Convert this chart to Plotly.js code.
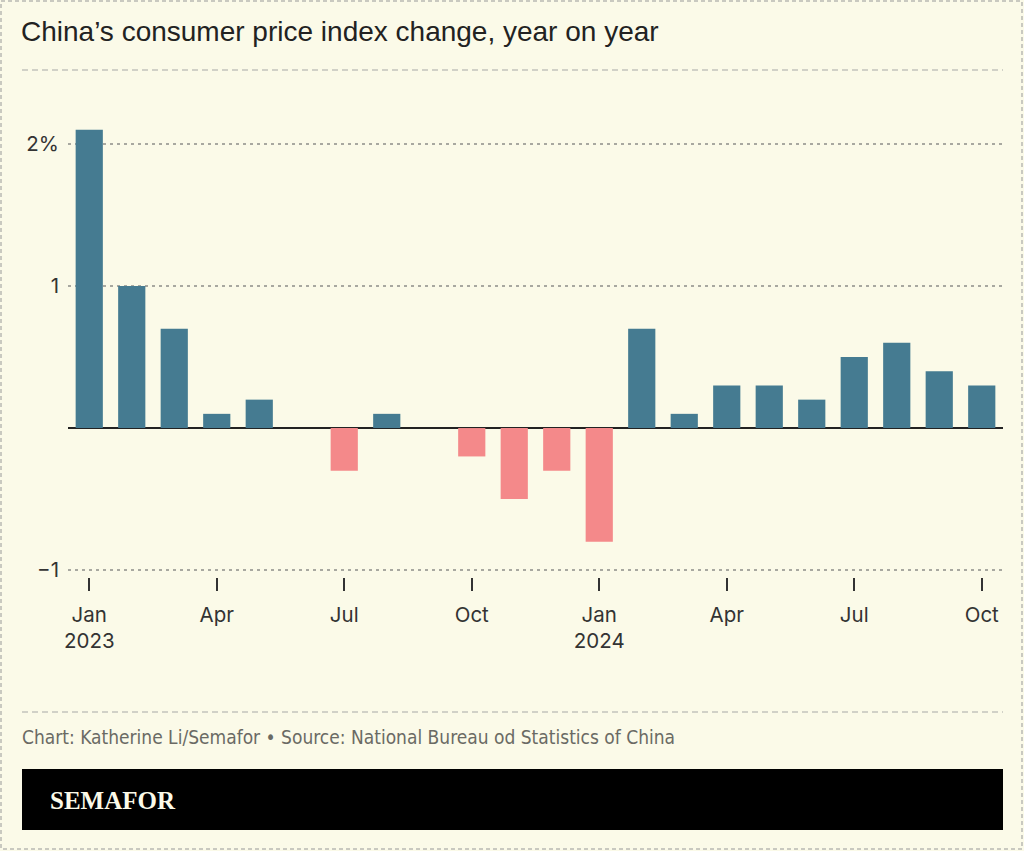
<!DOCTYPE html>
<html>
<head>
<meta charset="utf-8">
<script src="https://cdn.plot.ly/plotly-3.0.1.min.js"></script>
<style>
  html, body { margin: 0; padding: 0; background: #fbfae8; }
  #chart { width: 1024px; height: 851px; }
</style>
</head>
<body>
<div id="chart"></div>
<script>
// ---- Data ----
const months = [
  "Jan 2023","Feb 2023","Mar 2023","Apr 2023","May 2023","Jun 2023",
  "Jul 2023","Aug 2023","Sep 2023","Oct 2023","Nov 2023","Dec 2023",
  "Jan 2024","Feb 2024","Mar 2024","Apr 2024","May 2024","Jun 2024",
  "Jul 2024","Aug 2024","Sep 2024","Oct 2024"
];
const cpiChange = [
  2.1, 1.0, 0.7, 0.1, 0.2, 0.0,
  -0.3, 0.1, 0.0, -0.2, -0.5, -0.3,
  -0.8, 0.7, 0.1, 0.3, 0.3, 0.2,
  0.5, 0.6, 0.4, 0.3
];
const xTickVals = ["Jan 2023","Apr 2023","Jul 2023","Oct 2023","Jan 2024","Apr 2024","Jul 2024","Oct 2024"];
const xTickText = ["Jan<br>2023","Apr","Jul","Oct","Jan<br>2024","Apr","Jul","Oct"];
const yTickVals = [-1, 1, 2];
const yTickText = ["\u22121", "1", "2%"];

const titleText = "China\u2019s consumer price index change, year on year";
const captionText = "Chart: Katherine Li/Semafor \u2022 Source: National Bureau od Statistics of China";
const logoText = "SEMAFOR";

// ---- Layout geometry ----
const W = 1024, H = 851;
const M = { l: 68, r: 21, t: 101, b: 274 };
const pw = W - M.l - M.r, ph = H - M.t - M.b;
const px = x => (x - M.l) / pw;
const py = y => (H - M.b - y) / ph;

const BLUE = "#457b91", RED = "#f4898a", BG = "#fbfae8";

const trace = {
  type: "bar",
  x: months,
  y: cpiChange,
  marker: { color: cpiChange.map(v => v < 0 ? RED : BLUE), line: { width: 0 } },
  hoverinfo: "x+y"
};

const layout = {
  width: W, height: H,
  margin: M,
  paper_bgcolor: BG,
  plot_bgcolor: BG,
  showlegend: false,
  bargap: 0.36,
  font: { family: "Inter, 'Noto Sans', sans-serif", color: "#333" },
  title: {
    text: titleText,
    x: 21 / W, xref: "container", xanchor: "left",
    y: 1 - 21 / H, yref: "container", yanchor: "top",
    font: { family: "'Liberation Sans', Arial, sans-serif", size: 28, color: "#222" }
  },
  xaxis: {
    type: "category",
    range: [-0.5, months.length - 0.5],
    tickmode: "array",
    tickvals: xTickVals,
    ticktext: xTickText,
    ticks: "outside", ticklen: 13, tickwidth: 2, tickcolor: "#333",
    ticklabelstandoff: 6,
    showgrid: false, showline: false, zeroline: false,
    tickfont: { family: "Inter, sans-serif", size: 20.5, color: "#333" },
    fixedrange: true
  },
  yaxis: {
    range: [-1.049, 2.303],
    tickmode: "array",
    tickvals: yTickVals,
    ticktext: yTickText,
    ticks: "",
    showgrid: true, gridcolor: "#a8a8a0", gridwidth: 1.2, griddash: "3px,4px",
    zeroline: true, zerolinecolor: "#222", zerolinewidth: 2,
    showline: false,
    ticklabelstandoff: 8,
    tickfont: { family: "Inter, sans-serif", size: 20.5, color: "#333" },
    fixedrange: true
  },
  shapes: [
    // outer dashed border
    { type: "rect", xref: "paper", yref: "paper", layer: "below",
      x0: px(1), x1: px(1022), y0: py(1), y1: py(849),
      line: { color: "#c9c9c0", width: 2, dash: "4px,3px" } },
    // top divider
    { type: "line", xref: "paper", yref: "paper",
      x0: px(22), x1: px(1003), y0: py(70), y1: py(70),
      line: { color: "#c4c4bc", width: 1.5, dash: "6px,4px" } },
    // bottom divider
    { type: "line", xref: "paper", yref: "paper",
      x0: px(22), x1: px(1003), y0: py(712), y1: py(712),
      line: { color: "#c4c4bc", width: 1.5, dash: "6px,4px" } },
    // logo bar
    { type: "rect", xref: "paper", yref: "paper",
      x0: px(22), x1: px(1003), y0: py(769), y1: py(830),
      fillcolor: "#000", line: { width: 0 } }
  ],
  annotations: [
    { text: captionText, xref: "paper", yref: "paper",
      x: px(20), y: py(737), xanchor: "left", yanchor: "middle", showarrow: false,
      font: { family: "'Liberation Sans Narrow', 'DejaVu Sans Condensed', sans-serif", size: 19, color: "#6a6a64" } },
    { text: "<b>" + logoText + "</b>", xref: "paper", yref: "paper",
      x: px(48), y: py(800), xanchor: "left", yanchor: "middle", showarrow: false,
      font: { family: "'Liberation Serif', 'DejaVu Serif', serif", size: 25, color: "#fbfae8" } }
  ]
};

Plotly.newPlot("chart", [trace], layout, { displayModeBar: false, staticPlot: true });
</script>
</body>
</html>
